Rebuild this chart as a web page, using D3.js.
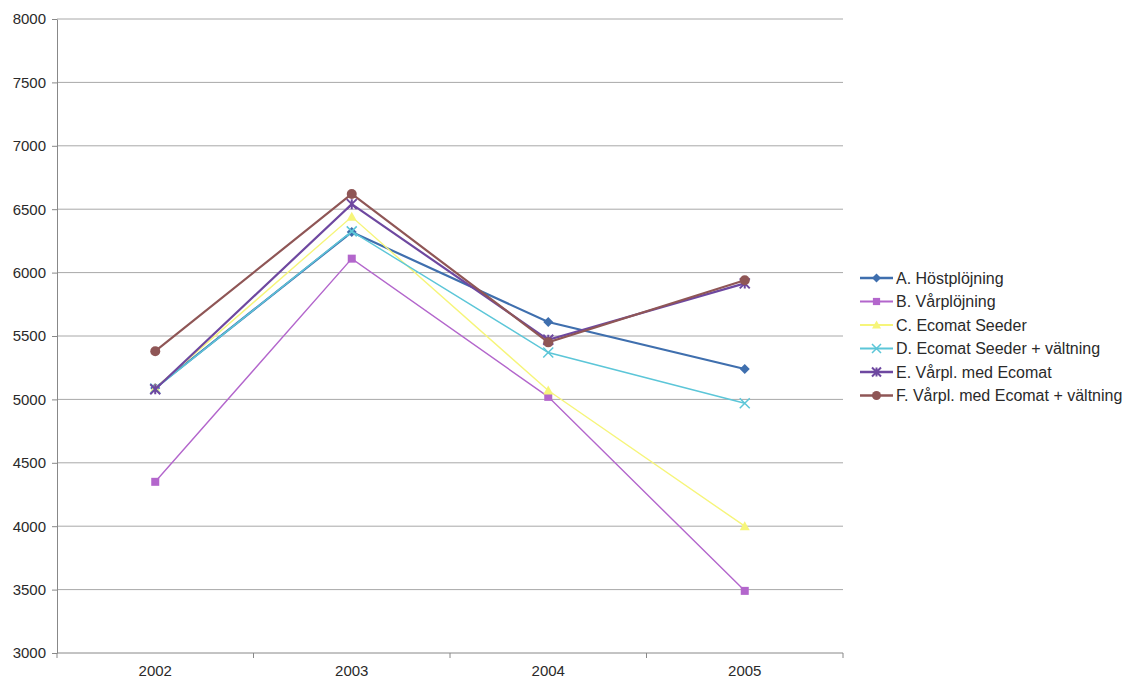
<!DOCTYPE html>
<html>
<head>
<meta charset="utf-8">
<script src="https://cdn.jsdelivr.net/npm/d3@7"></script>
<style>
  body { margin: 0; background: #fff; }
  text { font-family: "Liberation Sans", Arial, sans-serif; fill: #2a2a2a; }
</style>
</head>
<body>
<svg id="chart" width="1122" height="681"></svg>
<script>
const years = ['2002', '2003', '2004', '2005'];
const yTicks = [3000, 3500, 4000, 4500, 5000, 5500, 6000, 6500, 7000, 7500, 8000];

const seriesNames = [
    'A. Höstplöjning',
    'B. Vårplöjning',
    'C. Ecomat Seeder',
    'D. Ecomat Seeder + vältning',
    'E. Vårpl. med Ecomat',
    'F. Vårpl. med Ecomat + vältning'
];
const valuesA = [5090, 6320, 5610, 5240];
const valuesB = [4350, 6110, 5020, 3490];
const valuesC = [5090, 6440, 5070, 4000];
const valuesD = [5085, 6325, 5370, 4970];
const valuesE = [5080, 6540, 5470, 5915];
const valuesF = [5380, 6620, 5450, 5940];

const colors = ['#3f6fae', '#b366cc', '#f6f57a', '#5cc6d8', '#6e48a0', '#8f5656'];
const markers = ['diamond', 'square', 'triangle', 'x', 'star', 'circle'];
const widths = [2.2, 1.4, 1.4, 1.4, 2.2, 2.2];

const series = [valuesA, valuesB, valuesC, valuesD, valuesE, valuesF].map((v, i) => ({
    name: seriesNames[i], values: v, color: colors[i], marker: markers[i], width: widths[i]
}));

const svg = d3.select('#chart');
const mLeft = 57, mRight = 843, mTop = 19, mBottom = 653;

const x = d3.scalePoint().domain(years).range([mLeft, mRight]).padding(0.5);
const y = d3.scaleLinear().domain([3000, 8000]).range([mBottom, mTop]);

// gridlines
svg.append('g')
    .selectAll('line')
    .data(yTicks.slice(1))
    .join('line')
    .attr('x1', mLeft).attr('x2', mRight)
    .attr('y1', d => y(d)).attr('y2', d => y(d))
    .attr('stroke', '#a8a8a8').attr('stroke-width', 1);

// y axis
const yAxis = svg.append('g')
    .attr('transform', `translate(${mLeft},0)`)
    .call(d3.axisLeft(y).tickValues(yTicks).tickFormat(d3.format('d'))
        .tickSize(5).tickSizeOuter(0).tickPadding(6));
yAxis.attr('font-size', null).attr('font-family', null);
yAxis.select('.domain').attr('stroke', '#888');
yAxis.selectAll('.tick line').attr('stroke', '#888');
yAxis.selectAll('text').style('font-size', '15px').attr('fill', '#2a2a2a');

// x axis (ticks between categories)
const step = x.step();
svg.append('line')
    .attr('x1', mLeft).attr('x2', mRight)
    .attr('y1', mBottom).attr('y2', mBottom)
    .attr('stroke', '#888');
svg.append('g')
    .selectAll('line')
    .data(d3.range(years.length + 1))
    .join('line')
    .attr('x1', i => mLeft + i * step).attr('x2', i => mLeft + i * step)
    .attr('y1', mBottom).attr('y2', mBottom + 5)
    .attr('stroke', '#888');
svg.append('g')
    .selectAll('text')
    .data(years)
    .join('text')
    .attr('x', d => x(d))
    .attr('y', 676)
    .attr('text-anchor', 'middle')
    .style('font-size', '15px')
    .text(d => d);

function drawMarker(g, type, color, size) {
    const s = size;
    if (type === 'diamond') {
        g.append('path').attr('d', `M0,${-s}L${s},0L0,${s}L${-s},0Z`).attr('fill', color);
    } else if (type === 'square') {
        g.append('rect').attr('x', -s * 0.8).attr('y', -s * 0.8).attr('width', s * 1.6).attr('height', s * 1.6).attr('fill', color);
    } else if (type === 'triangle') {
        g.append('path').attr('d', `M0,${-s}L${s},${s * 0.8}L${-s},${s * 0.8}Z`).attr('fill', color);
    } else if (type === 'x') {
        g.append('path').attr('d', `M${-s},${-s}L${s},${s}M${-s},${s}L${s},${-s}`).attr('stroke', color).attr('stroke-width', 1.5);
    } else if (type === 'star') {
        g.append('path').attr('d', `M${-s},${-s}L${s},${s}M${-s},${s}L${s},${-s}M0,${-s}L0,${s}`).attr('stroke', color).attr('stroke-width', 2);
    } else if (type === 'circle') {
        g.append('circle').attr('r', s).attr('fill', color);
    }
}

const line = d3.line().x((d, i) => x(years[i])).y(d => y(d));

const plot = svg.append('g');
series.forEach(s => {
    plot.append('path')
        .datum(s.values)
        .attr('d', line)
        .attr('fill', 'none')
        .attr('stroke', s.color)
        .attr('stroke-width', s.width);
    s.values.forEach((v, i) => {
        const g = plot.append('g').attr('transform', `translate(${x(years[i])},${y(v)})`);
        drawMarker(g, s.marker, s.color, 5);
    });
});

// legend
const legend = svg.append('g').attr('transform', 'translate(860,278)');
series.forEach((s, i) => {
    const g = legend.append('g').attr('transform', `translate(0,${i * 23.5})`);
    g.append('line').attr('x1', 0).attr('x2', 33).attr('y1', 0).attr('y2', 0)
        .attr('stroke', s.color).attr('stroke-width', s.width + 0.4);
    const m = g.append('g').attr('transform', 'translate(16.5,0)');
    drawMarker(m, s.marker, s.color, 4.5);
    g.append('text').attr('x', 36).attr('y', 5.5).style('font-size', '16px').text(s.name);
});
</script>
</body>
</html>
